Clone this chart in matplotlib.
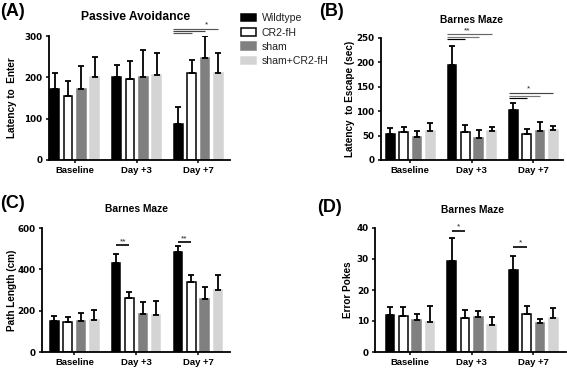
import matplotlib
matplotlib.use('Agg')
import matplotlib.pyplot as plt
import numpy as np

plt.rcParams['font.family'] = ['Liberation Sans', 'DejaVu Sans']

groups = ['Baseline', 'Day +3', 'Day +7']
series = ['Wildtype', 'CR2-fH', 'sham', 'sham+CR2-fH']
colors = ['#000000', '#ffffff', '#808080', '#d4d4d4']
edges = ['#000000', '#000000', '#808080', '#d4d4d4']

# (A) passive avoidance, latency to enter
a_mean = [[171, 201, 88], [156, 197, 211], [172, 200, 246], [200, 206, 211]]
a_err = [[40, 29, 41], [36, 42, 31], [55, 66, 54], [50, 54, 47]]

# (B) barnes maze, latency to escape
b_mean = [[54, 194, 103], [58, 57, 54], [47, 44, 59], [59, 60, 61]]
b_err = [[12, 40, 13], [9, 15, 9], [12, 18, 19], [16, 8, 9]]

# (C) barnes maze, path length
c_mean = [[151, 433, 482], [144, 263, 339], [149, 185, 258], [154, 180, 300]]
c_err = [[24, 43, 29], [26, 26, 35], [41, 58, 58], [49, 66, 71]]

# (D) barnes maze, error pokes
d_mean = [[11.8, 29.3, 26.6], [11.5, 11.1, 12.4], [10.4, 11.4, 9.2], [9.8, 8.8, 11.1]]
d_err = [[2.6, 7.5, 4.4], [3.1, 2.3, 2.3], [2.0, 1.8, 1.5], [5.1, 2.6, 3.1]]

# significance lines: (group, to series, y, colour) and stars: (group, x offset, y, text)
a_sig = [(2, 3, 317.5, '#555555'), (2, 2, 312.5, '#444444'), (2, 1, 307.5, '#555555')]
a_star = [(2, 0.457, 318, '*')]
b_sig = [(1, 1, 247, '#000000'), (1, 2, 252, '#777777'), (1, 3, 257, '#666666'),
         (2, 1, 126, '#000000'), (2, 2, 131.5, '#777777'), (2, 3, 137.5, '#444444')]
b_star = [(1, 0.24, 257, '**'), (2, 0.25, 137.5, '*')]
c_sig = [(1, 1, 518, '#000000'), (2, 1, 531, '#000000')]
c_star = [(1, 0.108, 518, '**'), (2, 0.108, 531, '**')]
d_sig = [(1, 1, 39.1, '#000000'), (2, 1, 34, '#000000')]
d_star = [(1, 0.108, 39.1, '*'), (2, 0.108, 34, '*')]

W, H = 567, 368
fig = plt.figure(figsize=(W / 100, H / 100), dpi=100)

step = 0.216
width = 0.14
offsets = (np.arange(4) - 1.5) * step
x = np.arange(3)


def panel(box, xlim, means, errs, ymax, yticks, title, title_xy, tsize, ylabel, ylab_x,
          letter, letter_xy, sig, stars, from_edge):
    left, top, right, bottom = box
    ax = fig.add_axes([left / W, 1 - bottom / H, (right - left) / W, (bottom - top) / H])
    for i in range(4):
        ax.bar(x + offsets[i], means[i], width, color=colors[i], edgecolor=edges[i],
               linewidth=1.1, zorder=2)
        ax.errorbar(x + offsets[i], means[i], yerr=[np.zeros(3), errs[i]], fmt='none',
                    ecolor='black', elinewidth=1.3, capsize=1.9, capthick=1.3, zorder=3)
    for g, j, y, c in sig:
        x0 = g + offsets[0] - (width / 2 + 0.01 if from_edge else 0)
        ax.plot([x0, g + offsets[j]], [y, y], color=c, lw=0.85 if from_edge else 1.2,
                clip_on=False, zorder=4, solid_capstyle='butt')
    for g, dx, y, t in stars:
        ax.text(g + offsets[0] + dx, y, t, ha='center', va='bottom',
                fontsize=6, color='#222222')
    ax.set_xlim(*xlim)
    ax.set_ylim(0, ymax)
    ax.set_yticks(yticks)
    ax.set_xticks(x)
    ax.set_xticklabels(groups)
    for s in ['top', 'right']:
        ax.spines[s].set_visible(False)
    for s in ['left', 'bottom']:
        ax.spines[s].set_linewidth(1.3)
    ax.tick_params(length=2.4, width=1.1, labelsize=6.8, pad=2)
    for lab in ax.get_xticklabels():
        lab.set_fontweight('bold')
    for lab in ax.get_yticklabels():
        lab.set_fontweight('bold')
        lab.set_family('DejaVu Sans')
        lab.set_fontsize(6.3)
    ax.set_ylabel(ylabel, fontsize=7.2, fontweight='bold')
    ax.yaxis.set_label_coords(ylab_x, 0.5)
    fig.text(title_xy[0] / W, 1 - title_xy[1] / H, title, fontsize=tsize,
             fontweight='bold', ha='center', va='center')
    fig.text(letter_xy[0] / W, 1 - letter_xy[1] / H, letter, fontsize=13,
             fontweight='bold', ha='left', va='center')
    return ax


axA = panel((48.7, 36, 230, 160), (-0.42, 2.51), a_mean, a_err, 300, [0, 100, 200, 300],
            'Passive Avoidance', (136, 17.3), 8.7, 'Latency to  Enter', -0.175,
            '(A)', (0, 11), a_sig, a_star, True)
axB = panel((380.7, 37.7, 563, 160), (-0.48, 2.48), b_mean, b_err, 250, [0, 50, 100, 150, 200, 250],
            'Barnes Maze', (471.7, 20), 7.4, 'Latency  to Escape (sec)', -0.141,
            '(B)', (319, 11), b_sig, b_star, True)
axC = panel((41.7, 228, 230, 352), (-0.53, 2.52), c_mean, c_err, 600, [0, 200, 400, 600],
            'Barnes Maze', (136.5, 209.3), 7.4, 'Path Length (cm)', -0.131,
            '(C)', (0, 204), c_sig, c_star, False)
axD = panel((375, 228, 566, 352), (-0.57, 2.53), d_mean, d_err, 40, [0, 10, 20, 30, 40],
            'Barnes Maze', (472.5, 210), 7.4, 'Error Pokes', -0.115,
            '(D)', (317, 207.5), d_sig, d_star, False)

handles = [c for c in axA.containers if isinstance(c, matplotlib.container.BarContainer)]
fig.legend(handles, series, loc='upper left', bbox_to_anchor=(241 / W, 1 - 13.3 / H),
           frameon=False, fontsize=7.6, handlelength=1.45, handleheight=0.72,
           handletextpad=0.5, labelspacing=0.4, borderpad=0, borderaxespad=0,
           labelcolor='#222222')

fig.savefig('out.png', dpi=100)
